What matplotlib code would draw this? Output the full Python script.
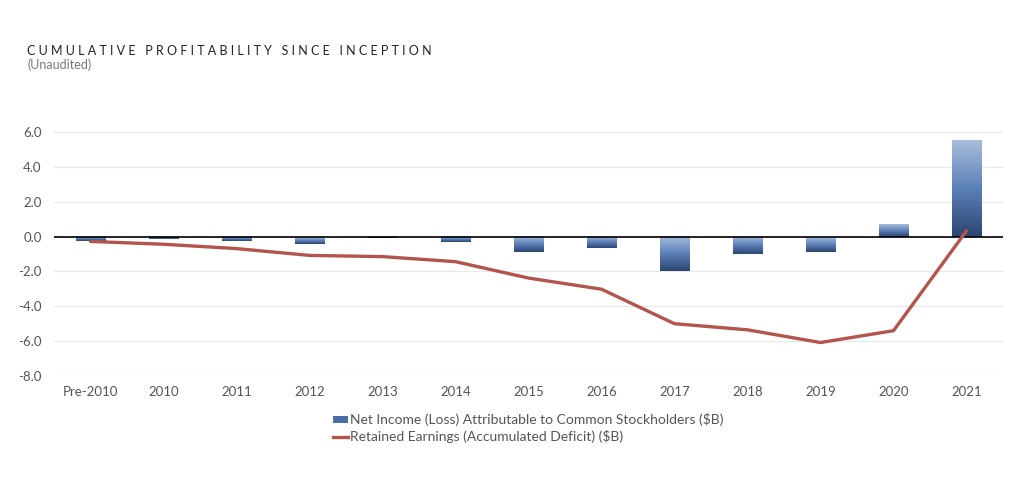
import matplotlib
matplotlib.use("Agg")
import matplotlib.pyplot as plt
import numpy as np
from matplotlib.colors import LinearSegmentedColormap
from matplotlib.patches import Patch
from matplotlib.lines import Line2D

# datos ($B)
years = ["Pre-2010", "2010", "2011", "2012", "2013", "2014", "2015",
         "2016", "2017", "2018", "2019", "2020", "2021"]
net_income = [-0.26, -0.15, -0.25, -0.40, -0.08, -0.29, -0.89,
              -0.68, -1.96, -0.98, -0.86, 0.72, 5.52]
retained = [-0.28, -0.44, -0.69, -1.08, -1.15, -1.44, -2.38,
            -3.02, -5.00, -5.35, -6.08, -5.40, 0.33]
yticks = [-8, -6, -4, -2, 0, 2, 4, 6]

plt.rcParams['font.family'] = ['Lato', 'DejaVu Sans']
plt.rcParams['axes.unicode_minus'] = False

grey = '#555555'
line_color = '#b3554c'
cmap = LinearSegmentedColormap.from_list("bar", ['#2b4570', '#5b80b8', '#a9bddc'])

fig = plt.figure(figsize=(10.24, 4.88), dpi=100)
ax = fig.add_axes([54 / 1024, 1 - 376 / 488, (1003 - 54) / 1024, (376 - 132) / 488])

x = np.arange(len(years))
bars = ax.bar(x, net_income, width=0.4, color='none', zorder=2)

# degradado vertical en cada barra (claro arriba, oscuro abajo)
grad = np.linspace(0, 1, 256).reshape(-1, 1)
for b in bars:
    x0, w = b.get_x(), b.get_width()
    y_lo = min(b.get_y(), b.get_y() + b.get_height())
    y_hi = max(b.get_y(), b.get_y() + b.get_height())
    ax.imshow(grad, extent=[x0, x0 + w, y_lo, y_hi], origin='lower',
              aspect='auto', cmap=cmap, zorder=2)

ax.plot(x, retained, color=line_color, lw=2.4, zorder=4, solid_capstyle='round')
ax.axhline(0, color='black', lw=1.2, zorder=3)

ax.set_xlim(-0.5, len(years) - 0.5)
ax.set_ylim(-8, 6)
ax.set_yticks(yticks)
ax.set_yticklabels([f"{v:.1f}" for v in yticks])
ax.set_xticks(x)
ax.set_xticklabels(years)
ax.yaxis.grid(True, color='#e8e8e8', lw=0.9, zorder=0)
ax.set_axisbelow(True)
for s in ax.spines.values():
    s.set_visible(False)
ax.tick_params(axis='both', length=0, labelsize=9.5, labelcolor=grey)
ax.tick_params(axis='y', pad=9)
ax.tick_params(axis='x', pad=7)

title = "   ".join(" ".join(w) for w in "CUMULATIVE PROFITABILITY SINCE INCEPTION".split())
fig.text(27 / 1024, 1 - 51 / 488, title, fontsize=9, color='#222222', va='center', ha='left')
fig.text(27 / 1024, 1 - 65 / 488, "(Unaudited)", fontsize=9, color='#777777', va='center', ha='left')

handles = [Patch(facecolor='#4a6ea6', edgecolor='none'),
           Line2D([], [], color=line_color, lw=2.4)]
labels = ["Net Income (Loss) Attributable to Common Stockholders ($B)",
          "Retained Earnings (Accumulated Deficit) ($B)"]
leg = fig.legend(handles, labels, loc='upper left',
                 bbox_to_anchor=(333 / 1024, 1 - 413 / 488), frameon=False,
                 fontsize=10, handlelength=1.1, handleheight=0.4, handletextpad=0.15,
                 borderpad=0, borderaxespad=0, labelspacing=0.3)
for t in leg.get_texts():
    t.set_color(grey)

fig.savefig("out.png", dpi=100, facecolor='white')
plt.close(fig)
